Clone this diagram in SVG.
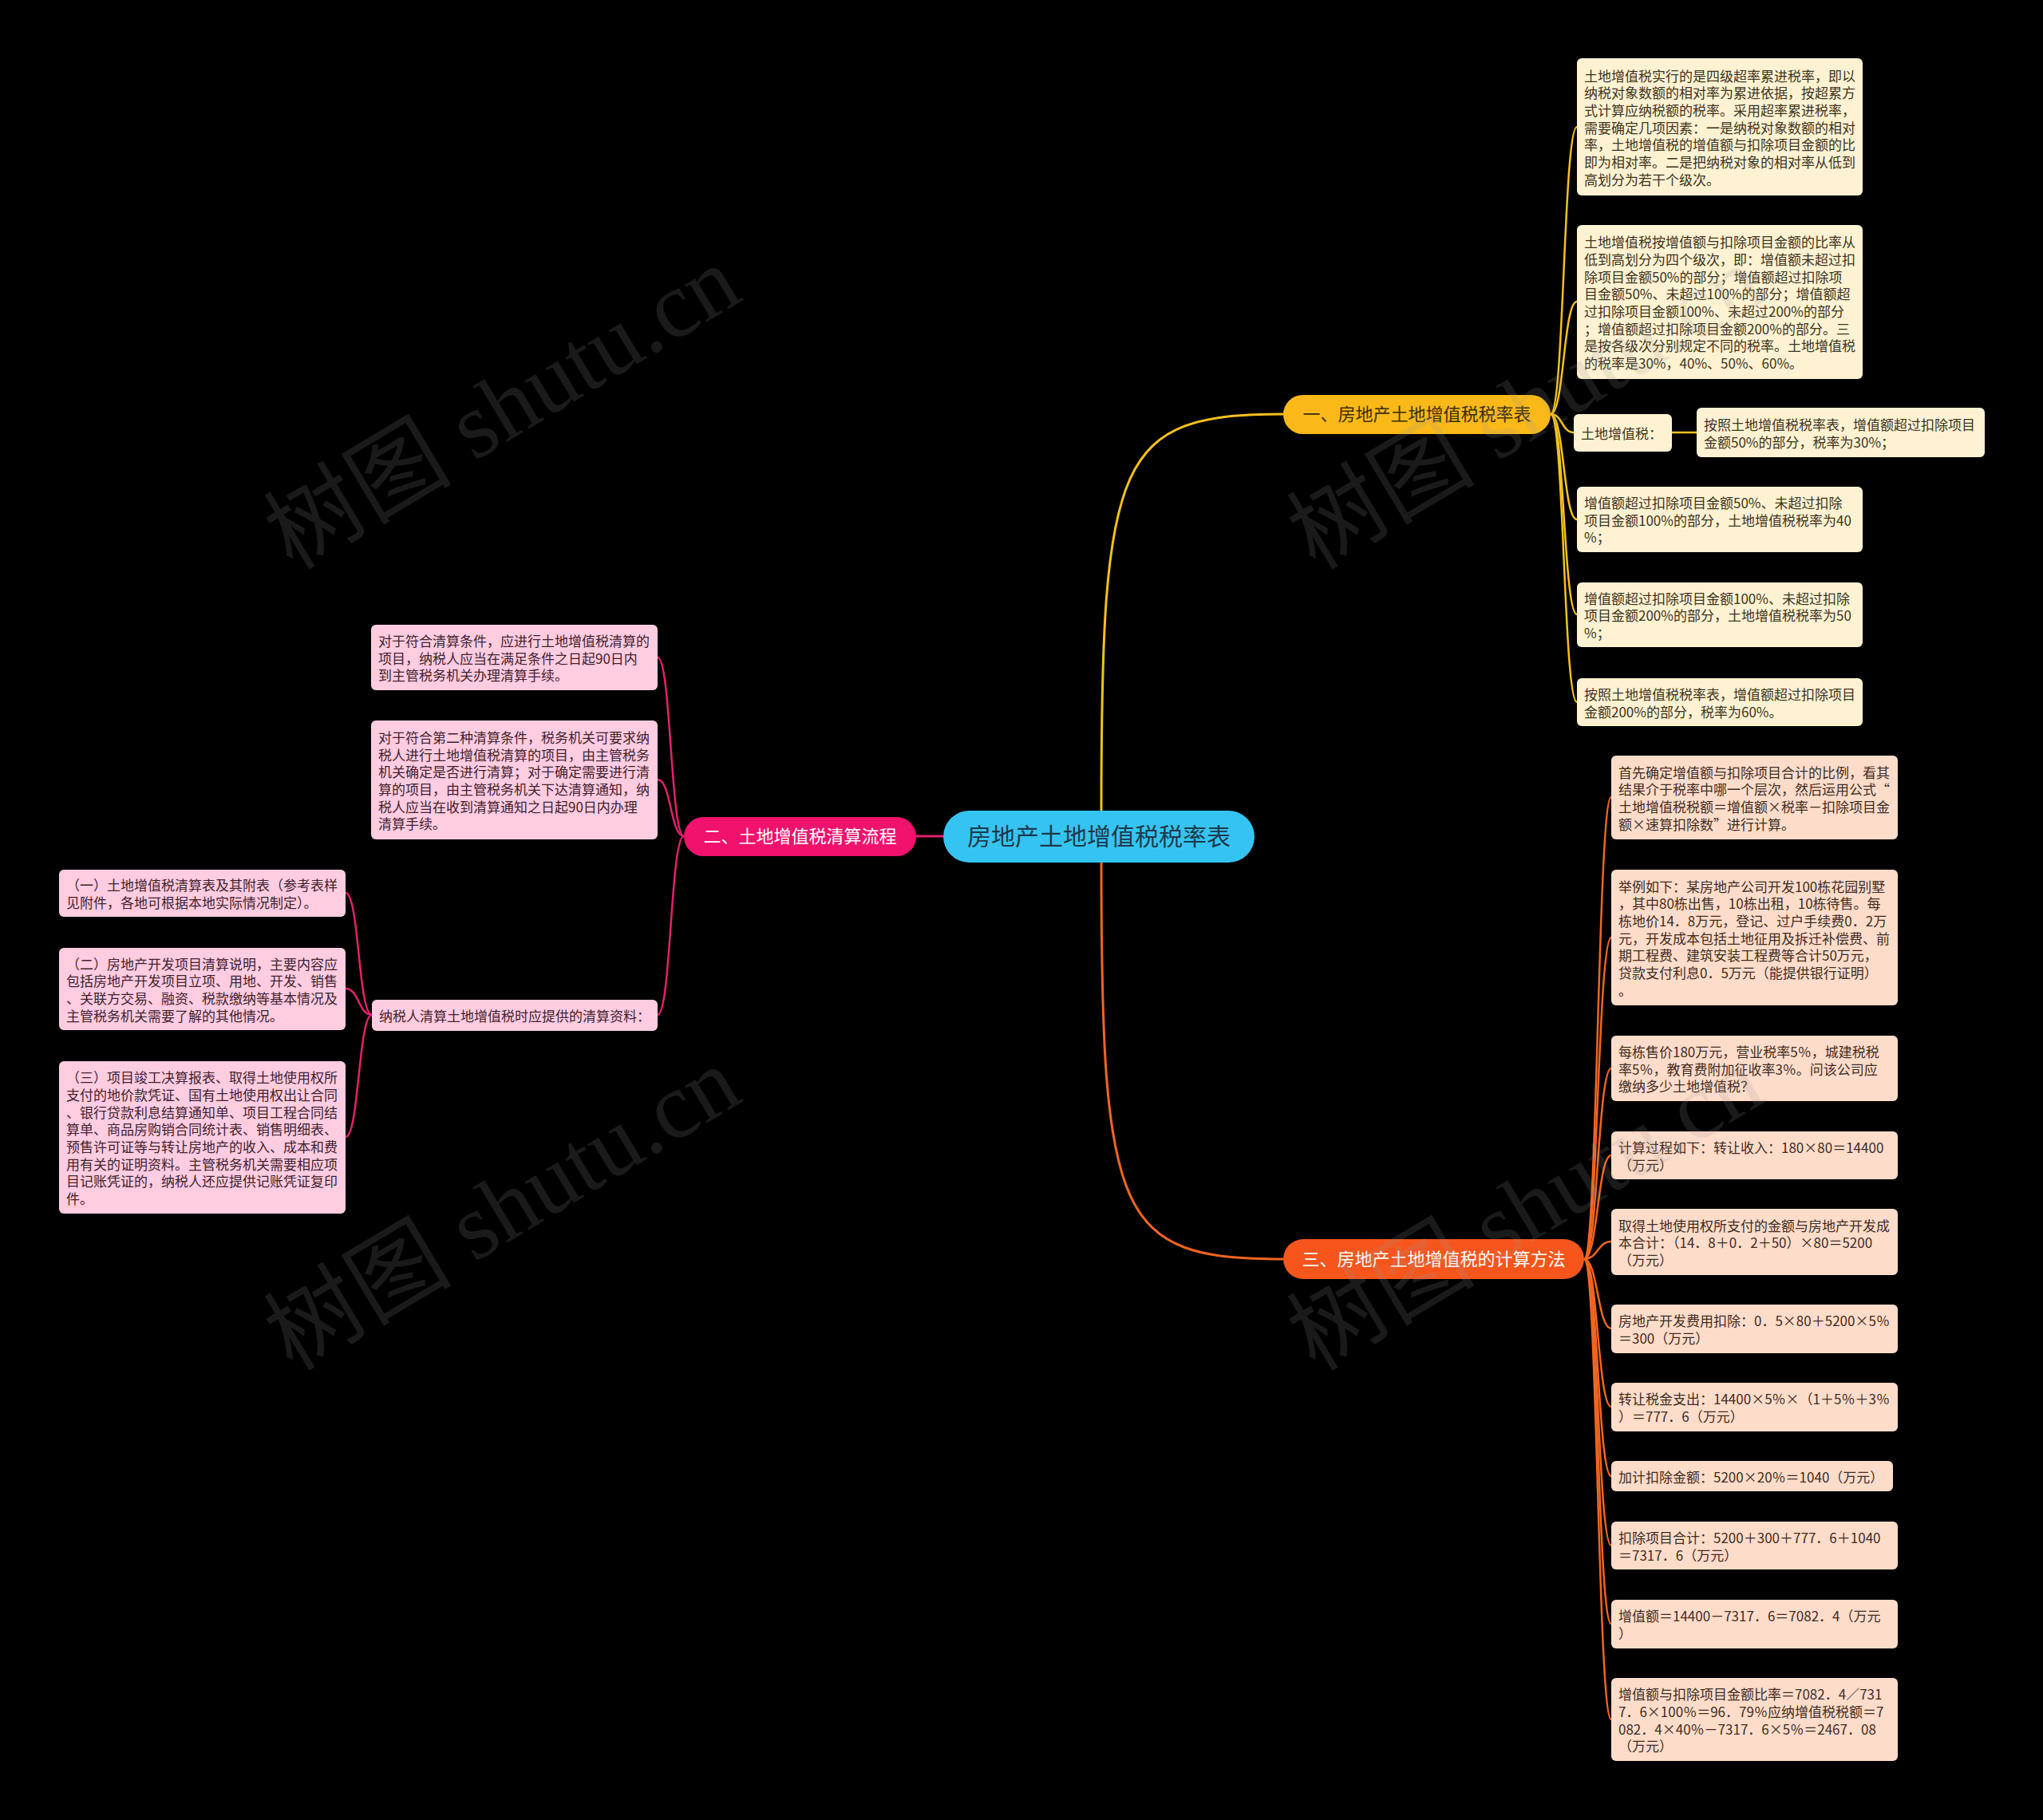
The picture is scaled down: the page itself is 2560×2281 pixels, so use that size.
<svg xmlns="http://www.w3.org/2000/svg" width="2560" height="2281" viewBox="0 0 2560 2281">
<style>
.t{font-family:"Noto Sans CJK SC","Noto Sans",sans-serif;font-size:17px}
.ty{fill:#3d3320}.to{fill:#3f2c22}.tp{fill:#40222f}
.ly{fill:#FEF2D2}.lo{fill:#FEDCCA}.lp{fill:#FFCCE0}
.cy{fill:none;stroke:#F5C11C;stroke-width:2.5}
.co{fill:none;stroke:#F2651F;stroke-width:2.5}
.cp{fill:none;stroke:#E3206D;stroke-width:2.5}
.bt{font-family:"Noto Sans CJK SC","Noto Sans",sans-serif;font-size:22px;text-anchor:middle}
.wm{font-family:"Liberation Serif","Noto Sans CJK SC",serif;font-size:118px;fill:#9a9a9a;opacity:0.17;text-anchor:middle}
</style>
<rect x="0" y="0" width="2560" height="2281" fill="#000"/>

<g id="connectors">
<path d="M1380,1016 C1380,570 1400,519 1608,519" fill="none" stroke="#F5C11C" stroke-width="3"/>
<path d="M1380,1081 C1380,1530 1400,1578 1608,1578" fill="none" stroke="#F2651F" stroke-width="3"/>
<path d="M1182,1048 L1148,1048" fill="none" stroke="#E3206D" stroke-width="3"/>
<path class="cy" d="M1943,519 C1960,519 1959,159 1976,159"/>
<path class="cy" d="M1943,519 C1960,519 1959,378 1976,378"/>
<path class="cy" d="M1943,519 C1958,519 1957,542 1972,542"/>
<path class="cy" d="M1943,519 C1960,519 1959,651 1976,651"/>
<path class="cy" d="M1943,519 C1960,519 1959,770 1976,770"/>
<path class="cy" d="M1943,519 C1960,519 1959,880 1976,880"/>
<path class="cy" d="M2095,542 L2126,542"/>
<path class="co" d="M1985,1578 C2002,1578 2002,999 2019,999"/>
<path class="co" d="M1985,1578 C2002,1578 2002,1175 2019,1175"/>
<path class="co" d="M1985,1578 C2002,1578 2002,1339 2019,1339"/>
<path class="co" d="M1985,1578 C2002,1578 2002,1448 2019,1448"/>
<path class="co" d="M1985,1578 C2002,1578 2002,1556 2019,1556"/>
<path class="co" d="M1985,1578 C2002,1578 2002,1665 2019,1665"/>
<path class="co" d="M1985,1578 C2002,1578 2002,1763 2019,1763"/>
<path class="co" d="M1985,1578 C2002,1578 2002,1850 2019,1850"/>
<path class="co" d="M1985,1578 C2002,1578 2002,1937 2019,1937"/>
<path class="co" d="M1985,1578 C2002,1578 2002,2035 2019,2035"/>
<path class="co" d="M1985,1578 C2002,1578 2002,2155 2019,2155"/>
<path class="cp" d="M857,1048 C840,1048 841,824 824,824"/>
<path class="cp" d="M857,1048 C840,1048 841,977 824,977"/>
<path class="cp" d="M857,1048 C840,1048 841,1272 824,1272"/>
<path class="cp" d="M466,1272 C449,1272 450,1119 433,1119"/>
<path class="cp" d="M466,1272 C449,1272 450,1239 433,1239"/>
<path class="cp" d="M466,1272 C449,1272 450,1425 433,1425"/>
</g>

<g id="root">
<rect x="1182" y="1016" width="390" height="65" rx="32.5" fill="#35C4F1"/>
<text x="1377" y="1059" font-family="Noto Sans CJK SC,sans-serif" font-size="30" fill="#1c3a4c" text-anchor="middle">房地产土地增值税税率表</text>
</g>

<g id="b1">
<rect x="1608" y="495" width="335" height="49" rx="24.5" fill="#FAB918"/>
<text class="bt" x="1775.5" y="527" fill="#3b2e10">一、房地产土地增值税税率表</text>
</g>
<g id="b2">
<rect x="857" y="1024" width="291" height="49" rx="24.5" fill="#F0126D"/>
<text class="bt" x="1002.5" y="1056" fill="#fff">二、土地增值税清算流程</text>
</g>
<g id="b3">
<rect x="1608" y="1553" width="377" height="50" rx="25" fill="#F6561C"/>
<text class="bt" x="1796.5" y="1586" fill="#fff">三、房地产土地增值税的计算方法</text>
</g>

<g id="y1">
<rect class="ly" x="1976" y="73" width="358" height="172" rx="6"/>
<text class="t ty"><tspan x="1985" y="101.5">土地增值税实行的是四级超率累进税率，即以</tspan><tspan x="1985" y="123.2">纳税对象数额的相对率为累进依据，按超累方</tspan><tspan x="1985" y="144.9">式计算应纳税额的税率。采用超率累进税率，</tspan><tspan x="1985" y="166.6">需要确定几项因素：一是纳税对象数额的相对</tspan><tspan x="1985" y="188.3">率，土地增值税的增值额与扣除项目金额的比</tspan><tspan x="1985" y="210">即为相对率。二是把纳税对象的相对率从低到</tspan><tspan x="1985" y="231.7">高划分为若干个级次。</tspan></text>
</g>
<g id="y2">
<rect class="ly" x="1976" y="282" width="358" height="193" rx="6"/>
<text class="t ty"><tspan x="1985" y="310.2">土地增值税按增值额与扣除项目金额的比率从</tspan><tspan x="1985" y="331.9">低到高划分为四个级次，即：增值额未超过扣</tspan><tspan x="1985" y="353.6">除项目金额50%的部分；增值额超过扣除项</tspan><tspan x="1985" y="375.3">目金额50%、未超过100%的部分；增值额超</tspan><tspan x="1985" y="397">过扣除项目金额100%、未超过200%的部分</tspan><tspan x="1985" y="418.7">；增值额超过扣除项目金额200%的部分。三</tspan><tspan x="1985" y="440.4">是按各级次分别规定不同的税率。土地增值税</tspan><tspan x="1985" y="462.1">的税率是30%，40%、50%、60%。</tspan></text>
</g>
<g id="y3">
<rect class="ly" x="1972" y="519" width="123" height="47" rx="6"/>
<text class="t ty" x="1981" y="550.2">土地增值税：</text>
</g>
<g id="y3a">
<rect class="ly" x="2126" y="511" width="361" height="62" rx="6"/>
<text class="t ty"><tspan x="2135" y="538.8">按照土地增值税税率表，增值额超过扣除项目</tspan><tspan x="2135" y="560.5">金额50%的部分，税率为30%；</tspan></text>
</g>
<g id="y4">
<rect class="ly" x="1976" y="610" width="358" height="82" rx="6"/>
<text class="t ty"><tspan x="1985" y="637">增值额超过扣除项目金额50%、未超过扣除</tspan><tspan x="1985" y="658.7">项目金额100%的部分，土地增值税税率为40</tspan><tspan x="1985" y="680.4">%；</tspan></text>
</g>
<g id="y5">
<rect class="ly" x="1976" y="730" width="358" height="81" rx="6"/>
<text class="t ty"><tspan x="1985" y="756.5">增值额超过扣除项目金额100%、未超过扣除</tspan><tspan x="1985" y="778.2">项目金额200%的部分，土地增值税税率为50</tspan><tspan x="1985" y="799.9">%；</tspan></text>
</g>
<g id="y6">
<rect class="ly" x="1976" y="850" width="358" height="60" rx="6"/>
<text class="t ty"><tspan x="1985" y="876.8">按照土地增值税税率表，增值额超过扣除项目</tspan><tspan x="1985" y="898.5">金额200%的部分，税率为60%。</tspan></text>
</g>

<g id="oa">
<rect class="lo" x="2019" y="947" width="359" height="105" rx="6"/>
<text class="t to"><tspan x="2028" y="974.6">首先确定增值额与扣除项目合计的比例，看其</tspan><tspan x="2028" y="996.3">结果介于税率中哪一个层次，然后运用公式“</tspan><tspan x="2028" y="1018">土地增值税税额＝增值额×税率－扣除项目金</tspan><tspan x="2028" y="1039.7">额×速算扣除数”进行计算。</tspan></text>
</g>
<g id="ob">
<rect class="lo" x="2019" y="1090" width="359" height="170" rx="6"/>
<text class="t to"><tspan x="2028" y="1117.6">举例如下：某房地产公司开发100栋花园别墅</tspan><tspan x="2028" y="1139.3">，其中80栋出售，10栋出租，10栋待售。每</tspan><tspan x="2028" y="1161">栋地价14．8万元，登记、过户手续费0．2万</tspan><tspan x="2028" y="1182.7">元，开发成本包括土地征用及拆迁补偿费、前</tspan><tspan x="2028" y="1204.4">期工程费、建筑安装工程费等合计50万元，</tspan><tspan x="2028" y="1226.1">贷款支付利息0．5万元（能提供银行证明）</tspan><tspan x="2028" y="1247.8">。</tspan></text>
</g>
<g id="oc">
<rect class="lo" x="2019" y="1298" width="359" height="82" rx="6"/>
<text class="t to"><tspan x="2028" y="1325">每栋售价180万元，营业税率5％，城建税税</tspan><tspan x="2028" y="1346.7">率5％，教育费附加征收率3％。问该公司应</tspan><tspan x="2028" y="1368.4">缴纳多少土地增值税？</tspan></text>
</g>
<g id="od">
<rect class="lo" x="2019" y="1418" width="359" height="60" rx="6"/>
<text class="t to"><tspan x="2028" y="1444.8">计算过程如下：转让收入：180×80＝14400</tspan><tspan x="2028" y="1466.5">（万元）</tspan></text>
</g>
<g id="oe">
<rect class="lo" x="2019" y="1515" width="359" height="83" rx="6"/>
<text class="t to"><tspan x="2028" y="1542.5">取得土地使用权所支付的金额与房地产开发成</tspan><tspan x="2028" y="1564.2">本合计：（14．8＋0．2＋50）×80＝5200</tspan><tspan x="2028" y="1585.9">（万元）</tspan></text>
</g>
<g id="of">
<rect class="lo" x="2019" y="1635" width="359" height="61" rx="6"/>
<text class="t to"><tspan x="2028" y="1662.3">房地产开发费用扣除：0．5×80＋5200×5％</tspan><tspan x="2028" y="1684">＝300（万元）</tspan></text>
</g>
<g id="og">
<rect class="lo" x="2019" y="1733" width="359" height="61" rx="6"/>
<text class="t to"><tspan x="2028" y="1760.3">转让税金支出：14400×5％×（1＋5％＋3％</tspan><tspan x="2028" y="1782">）＝777．6（万元）</tspan></text>
</g>
<g id="oh">
<rect class="lo" x="2019" y="1831" width="353" height="38" rx="6"/>
<text class="t to" x="2028" y="1857.7">加计扣除金额：5200×20％＝1040（万元）</text>
</g>
<g id="oi">
<rect class="lo" x="2019" y="1907" width="359" height="60" rx="6"/>
<text class="t to"><tspan x="2028" y="1933.8">扣除项目合计：5200＋300＋777．6＋1040</tspan><tspan x="2028" y="1955.5">＝7317．6（万元）</tspan></text>
</g>
<g id="oj">
<rect class="lo" x="2019" y="2005" width="359" height="61" rx="6"/>
<text class="t to"><tspan x="2028" y="2032.3">增值额＝14400－7317．6＝7082．4（万元</tspan><tspan x="2028" y="2054">）</tspan></text>
</g>
<g id="ok">
<rect class="lo" x="2019" y="2103" width="359" height="104" rx="6"/>
<text class="t to"><tspan x="2028" y="2130.1">增值额与扣除项目金额比率＝7082．4／731</tspan><tspan x="2028" y="2151.8">7．6×100％＝96．79％应纳增值税税额＝7</tspan><tspan x="2028" y="2173.5">082．4×40％－7317．6×5％＝2467．08</tspan><tspan x="2028" y="2195.2">（万元）</tspan></text>
</g>

<g id="p1">
<rect class="lp" x="465" y="783" width="359" height="82" rx="6"/>
<text class="t tp"><tspan x="474" y="810">对于符合清算条件，应进行土地增值税清算的</tspan><tspan x="474" y="831.7">项目，纳税人应当在满足条件之日起90日内</tspan><tspan x="474" y="853.4">到主管税务机关办理清算手续。</tspan></text>
</g>
<g id="p2">
<rect class="lp" x="465" y="903" width="359" height="149" rx="6"/>
<text class="t tp"><tspan x="474" y="930.9">对于符合第二种清算条件，税务机关可要求纳</tspan><tspan x="474" y="952.6">税人进行土地增值税清算的项目，由主管税务</tspan><tspan x="474" y="974.3">机关确定是否进行清算；对于确定需要进行清</tspan><tspan x="474" y="996">算的项目，由主管税务机关下达清算通知，纳</tspan><tspan x="474" y="1017.7">税人应当在收到清算通知之日起90日内办理</tspan><tspan x="474" y="1039.4">清算手续。</tspan></text>
</g>
<g id="p3">
<rect class="lp" x="466" y="1253" width="358" height="39" rx="6"/>
<text class="t tp" x="475" y="1280.2">纳税人清算土地增值税时应提供的清算资料：</text>
</g>
<g id="q1">
<rect class="lp" x="74" y="1090" width="359" height="59" rx="6"/>
<text class="t tp"><tspan x="83" y="1116.3">（一）土地增值税清算表及其附表（参考表样</tspan><tspan x="83" y="1138">见附件，各地可根据本地实际情况制定）。</tspan></text>
</g>
<g id="q2">
<rect class="lp" x="74" y="1188" width="359" height="103" rx="6"/>
<text class="t tp"><tspan x="83" y="1214.6">（二）房地产开发项目清算说明，主要内容应</tspan><tspan x="83" y="1236.3">包括房地产开发项目立项、用地、开发、销售</tspan><tspan x="83" y="1258">、关联方交易、融资、税款缴纳等基本情况及</tspan><tspan x="83" y="1279.7">主管税务机关需要了解的其他情况。</tspan></text>
</g>
<g id="q3">
<rect class="lp" x="74" y="1330" width="359" height="191" rx="6"/>
<text class="t tp"><tspan x="83" y="1357.2">（三）项目竣工决算报表、取得土地使用权所</tspan><tspan x="83" y="1378.9">支付的地价款凭证、国有土地使用权出让合同</tspan><tspan x="83" y="1400.6">、银行贷款利息结算通知单、项目工程合同结</tspan><tspan x="83" y="1422.3">算单、商品房购销合同统计表、销售明细表、</tspan><tspan x="83" y="1444">预售许可证等与转让房地产的收入、成本和费</tspan><tspan x="83" y="1465.7">用有关的证明资料。主管税务机关需要相应项</tspan><tspan x="83" y="1487.4">目记账凭证的，纳税人还应提供记账凭证复印</tspan><tspan x="83" y="1509.1">件。</tspan></text>
</g>

<g id="watermarks">
<text class="wm" transform="translate(650,545) rotate(-31)">树图 shutu.cn</text>
<text class="wm" transform="translate(650,1549) rotate(-31)">树图 shutu.cn</text>
<text class="wm" transform="translate(1932,545) rotate(-31)">树图 shutu.cn</text>
<text class="wm" transform="translate(1932,1549) rotate(-31)">树图 shutu.cn</text>
</g>
</svg>
